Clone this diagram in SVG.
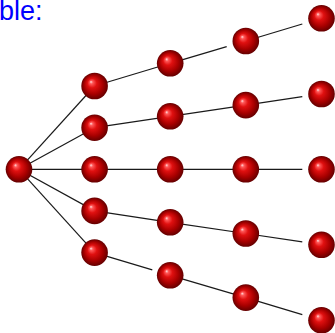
<svg xmlns="http://www.w3.org/2000/svg" width="335" height="333" viewBox="0 0 335 333">
<defs>
<radialGradient id="ball" cx="0.5" cy="0.5" r="0.5" fx="0.36" fy="0.34">
<stop offset="0" stop-color="#ffe2e2"/>
<stop offset="0.12" stop-color="#ff5a5a"/>
<stop offset="0.35" stop-color="#e01010"/>
<stop offset="0.7" stop-color="#a80000"/>
<stop offset="1" stop-color="#640000"/>
</radialGradient>
<style>
.t{font-family:"Liberation Sans",Arial,sans-serif;font-size:27px;fill:#0000ff}
.e{stroke:#1a1a1a;stroke-width:1.2;fill:none}
.n{fill:url(#ball)}
</style>
</defs>
<text class="t" x="-1" y="20">ble:</text>
<g id="connectors">
<line class="e" x1="19" y1="169.3" x2="94.6" y2="86"/>
<line class="e" x1="19" y1="169.3" x2="94.6" y2="127.7"/>
<line class="e" x1="19" y1="169.3" x2="94.6" y2="169.3"/>
<line class="e" x1="19" y1="169.3" x2="94.6" y2="210.9"/>
<line class="e" x1="19" y1="169.3" x2="94.6" y2="252.6"/>
<line class="e" x1="94.6" y1="86" x2="170.2" y2="63.3"/>
<line class="e" x1="94.6" y1="127.7" x2="170.2" y2="116.3"/>
<line class="e" x1="94.6" y1="169.3" x2="170.2" y2="169.3"/>
<line class="e" x1="94.6" y1="210.9" x2="170.2" y2="222.3"/>
<line class="e" x1="94.6" y1="252.6" x2="152.3" y2="269.9"/>
<line class="e" x1="170.2" y1="63.3" x2="226.7" y2="46.6"/>
<line class="e" x1="170.2" y1="116.3" x2="245.8" y2="105.1"/>
<line class="e" x1="170.2" y1="169.3" x2="245.8" y2="169.3"/>
<line class="e" x1="170.2" y1="222.3" x2="245.8" y2="233.5"/>
<line class="e" x1="170.2" y1="275.3" x2="245.8" y2="297.6"/>
<line class="e" x1="245.8" y1="41" x2="302.3" y2="24"/>
<line class="e" x1="245.8" y1="105.1" x2="302.3" y2="96.7"/>
<line class="e" x1="245.8" y1="169.3" x2="302.3" y2="169.3"/>
<line class="e" x1="245.8" y1="233.5" x2="302.3" y2="241.9"/>
<line class="e" x1="245.8" y1="297.6" x2="302.3" y2="314.6"/>
</g>
<g id="n0"><circle class="n" cx="19" cy="169.3" r="13.3"/></g>
<g id="n1a"><circle class="n" cx="94.6" cy="86" r="13.3"/></g>
<g id="n1b"><circle class="n" cx="94.6" cy="127.7" r="13.3"/></g>
<g id="n1c"><circle class="n" cx="94.6" cy="169.3" r="13.3"/></g>
<g id="n1d"><circle class="n" cx="94.6" cy="210.9" r="13.3"/></g>
<g id="n1e"><circle class="n" cx="94.6" cy="252.6" r="13.3"/></g>
<g id="n2a"><circle class="n" cx="170.2" cy="63.3" r="13.3"/></g>
<g id="n2b"><circle class="n" cx="170.2" cy="116.3" r="13.3"/></g>
<g id="n2c"><circle class="n" cx="170.2" cy="169.3" r="13.3"/></g>
<g id="n2d"><circle class="n" cx="170.2" cy="222.3" r="13.3"/></g>
<g id="n2e"><circle class="n" cx="170.2" cy="275.3" r="13.3"/></g>
<g id="n3a"><circle class="n" cx="245.8" cy="41" r="13.3"/></g>
<g id="n3b"><circle class="n" cx="245.8" cy="105.1" r="13.3"/></g>
<g id="n3c"><circle class="n" cx="245.8" cy="169.3" r="13.3"/></g>
<g id="n3d"><circle class="n" cx="245.8" cy="233.5" r="13.3"/></g>
<g id="n3e"><circle class="n" cx="245.8" cy="297.6" r="13.3"/></g>
<g id="n4a"><circle class="n" cx="321.5" cy="18.3" r="13.3"/></g>
<g id="n4b"><circle class="n" cx="321.5" cy="94" r="13.3"/></g>
<g id="n4c"><circle class="n" cx="321.5" cy="169.3" r="13.3"/></g>
<g id="n4d"><circle class="n" cx="321.5" cy="244.8" r="13.3"/></g>
<g id="n4e"><circle class="n" cx="321.5" cy="320.3" r="13.3"/></g>
</svg>
